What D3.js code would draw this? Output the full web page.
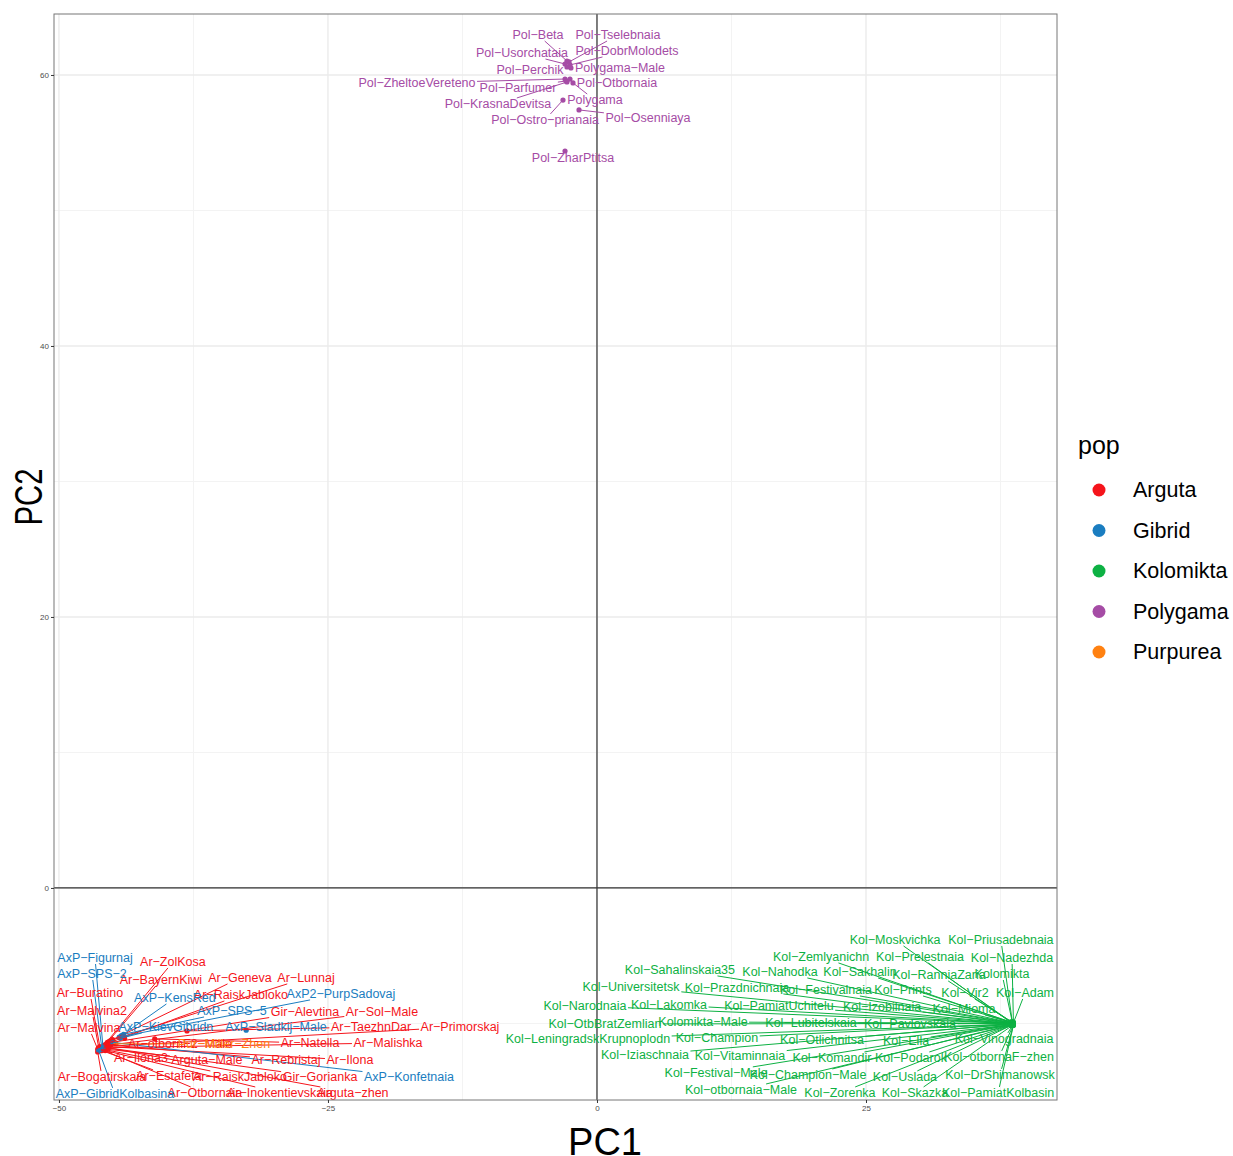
<!DOCTYPE html>
<html>
<head>
<meta charset="utf-8">
<script src="https://cdn.jsdelivr.net/npm/d3@7"></script>
<style>
  body { margin: 0; background: #fff; }
  text { font-family: "Liberation Sans", Arial, sans-serif; }
</style>
</head>
<body>
<div id="chart"></div>
<script>
// populations and their colours
const pops = ['Arguta', 'Gibrid', 'Kolomikta', 'Polygama', 'Purpurea'];
const popColors = ['#f5141b', '#1a7dc0', '#0db143', '#a54ca5', '#ff8111'];

// ticks
const xTicks = [-50, -25, 0, 25];
const yTicks = [0, 20, 40, 60];
const xMinor = [-37.5, -12.5, 12.5, 37.5];
const yMinor = [-10, 10, 30, 50];

// samples: [label, PC1, PC2]
const arguta = [
  ['Ar−ZolKosa', -45.8, -11.6], ['Ar−BayernKiwi', -45.5, -11.4], ['Ar−Geneva', -45.3, -11.3],
  ['Ar−Lunnaj', -45.0, -11.2], ['Ar−Buratino', -46.2, -11.7], ['Ar−RaiskJabloko', -45.6, -11.5],
  ['Ar−Malvina2', -46.3, -11.8], ['Gir−Alevtina', -45.1, -11.4], ['Ar−Sol−Male', -45.4, -11.6],
  ['Ar−Malvina', -46.4, -11.9], ['Ar−TaezhnDar', -38.1, -10.55], ['Ar−Primorskaj', -45.7, -11.7],
  ['Ar−otbornF2−Male', -43.9, -11.1], ['Ar−Natella', -41.1, -11.14], ['Ar−Malishka', -45.9, -11.8],
  ['Ar−Ilona3', -46.1, -12.0], ['Arguta−Male', -45.6, -11.9], ['Ar−Rebristaj', -45.2, -11.6],
  ['Ar−Ilona', -45.8, -11.7], ['Ar−Bogatirskaia', -46.4, -12.1], ['Ar−Estafeta', -46.0, -12.0],
  ['Ar−RaiskJabloko', -45.9, -11.9], ['Gir−Gorianka', -45.5, -11.8], ['Ar−Otbornaia', -46.1, -11.9],
  ['Ar−Inokentievskaia', -45.7, -12.0], ['Arguta−zhen', -45.4, -11.8]
];
const argutaLabels = [
  [-39.41, -5.46], [-40.52, -6.79], [-33.18, -6.64], [-27.04, -6.64], [-47.12, -7.75], [-33.09, -7.90],
  [-46.93, -9.08], [-27.14, -9.15], [-19.98, -9.15], [-47.21, -10.33], [-21.00, -10.26], [-12.73, -10.26],
  [-38.75, -11.51], [-26.67, -11.44], [-19.42, -11.44], [-42.38, -12.55], [-36.25, -12.69], [-28.90, -12.69],
  [-22.96, -12.69], [-46.00, -13.95], [-39.78, -13.87], [-33.18, -13.95], [-25.74, -13.95], [-36.43, -15.13],
  [-29.46, -15.13], [-22.68, -15.13]
];

const gibrid = [
  ['AxP−Figurnaj', -45.9, -11.8], ['AxP−SPS−2', -46.0, -11.9], ['AxP−KensRed', -44.2, -10.9],
  ['AxP2−PurpSadovaj', -44.4, -11.0], ['AxP−SPS−5', -44.0, -10.8], ['AxP−KievGibridn', -44.3, -11.1],
  ['AxP−Sladkij−Male', -32.6, -10.5], ['AxP−Konfetnaia', -45.0, -11.4], ['AxP−GibridKolbasina', -46.3, -12.0]
];
const gibridLabels = [
  [-46.65, -5.17], [-46.93, -6.35], [-39.22, -8.12], [-23.79, -7.82], [-33.92, -9.08], [-40.06, -10.26],
  [-29.83, -10.26], [-17.47, -13.95], [-44.80, -15.20]
];

const purpurea = [['Pur−Miller−Zhen', -44.7, -11.5]];
const purpureaLabels = [[-34.67, -11.51]];

const polygama = [
  ['Pol−Beta', -2.79, 61.03], ['Pol−Tselebnaia', -2.60, 60.96], ['Pol−Usorchataia', -2.97, 60.81],
  ['Pol−DobrMolodets', -2.51, 60.74], ['Pol−Perchik', -2.79, 60.59], ['Polygama−Male', -2.42, 60.52],
  ['Pol−ZheltoeVereteno', -2.97, 59.70], ['Pol−Parfumer', -2.88, 59.56], ['Pol−Otbornaia', -2.51, 59.70],
  ['Pol−KrasnaDevitsa', -2.79, 59.48], ['Polygama', -2.23, 59.41], ['Pol−Ostro−prianaia', -3.16, 58.15],
  ['Pol−Osenniaya', -1.67, 57.42], ['Pol−ZharPtitsa', -2.97, 54.39]
];
const polygamaLabels = [
  [-5.48, 62.95], [1.95, 62.95], [-6.97, 61.62], [2.79, 61.77], [-6.23, 60.37], [2.14, 60.52],
  [-16.73, 59.41], [-7.34, 59.04], [1.86, 59.41], [-9.20, 57.86], [-0.19, 58.15], [-4.83, 56.68],
  [4.74, 56.83], [-2.23, 53.87]
];

const kolomikta = [
  ['Kol−Moskvichka', 38.5, -9.9], ['Kol−Priusadebnaia', 38.6, -9.9], ['Kol−Zemlyanichn', 38.4, -9.9],
  ['Kol−Prelestnaia', 38.5, -9.95], ['Kol−Nadezhda', 38.7, -9.9], ['Kol−Sahalinskaia35', 38.4, -9.95],
  ['Kol−Nahodka', 38.5, -9.95], ['Kol−Sakhalin', 38.5, -9.9], ['Kol−RanniaZaria', 38.6, -9.95],
  ['Kolomikta', 38.6, -9.9], ['Kol−Universitetsk', 38.4, -10.0], ['Kol−Prazdnichnaia', 38.5, -10.0],
  ['Kol−Festivalnaia', 38.5, -9.95], ['Kol−Prints', 38.6, -9.95], ['Kol−Vir2', 38.6, -9.9],
  ['Kol−Adam', 38.7, -9.95], ['Kol−Narodnaia', 38.4, -10.0], ['Kol−Lakomka', 38.5, -10.0],
  ['Kol−PamiatUchitelu', 38.5, -10.0], ['Kol−Izobilnaia', 38.5, -9.95], ['Kol−Mioma', 38.6, -9.95],
  ['Kol−OtbBratZemlian', 38.5, -10.0], ['Kolomikta−Male', 38.5, -10.0], ['Kol−Lubitelskaia', 38.5, -10.0],
  ['Kol−Pavlovskaia', 38.6, -10.0], ['Kol−LeningradskKrupnoplodn', 38.5, -10.05], ['Kol−Champion', 38.5, -10.05],
  ['Kol−Otlichnitsa', 38.5, -10.05], ['Kol−Ella', 38.6, -10.05], ['Kol−Vinogradnaia', 38.7, -10.05],
  ['Kol−Iziaschnaia', 38.5, -10.05], ['Kol−Vitaminnaia', 38.5, -10.1], ['Kol−Komandir', 38.5, -10.1],
  ['Kol−Podarok', 38.6, -10.1], ['Kol−otbornaF−zhen', 38.7, -10.1], ['Kol−Festival−Male', 38.5, -10.1],
  ['Kol−Champion−Male', 38.5, -10.1], ['Kol−Uslada', 38.6, -10.1], ['Kol−DrShimanowsk', 38.7, -10.1],
  ['Kol−otbornaia−Male', 38.5, -10.15], ['Kol−Zorenka', 38.5, -10.15], ['Kol−Skazka', 38.6, -10.15],
  ['Kol−PamiatKolbasin', 38.7, -10.15]
];
const kolomiktaLabels = [
  [27.70, -3.84], [37.54, -3.84], [20.82, -5.09], [30.02, -5.09], [38.57, -5.17], [7.71, -6.05],
  [17.01, -6.20], [24.44, -6.20], [31.78, -6.42], [37.64, -6.35], [3.16, -7.31], [13.01, -7.38],
  [21.28, -7.53], [28.44, -7.53], [34.20, -7.75], [39.78, -7.75], [-1.12, -8.71], [6.69, -8.63],
  [16.91, -8.71], [26.49, -8.78], [34.11, -8.93], [0.74, -10.04], [9.85, -9.89], [19.89, -9.96],
  [29.09, -10.04], [-0.84, -11.14], [11.15, -11.07], [20.91, -11.22], [28.72, -11.29], [37.83, -11.14],
  [4.46, -12.32], [13.29, -12.40], [21.84, -12.55], [29.18, -12.55], [37.36, -12.47], [11.06, -13.65],
  [19.61, -13.80], [28.62, -13.95], [37.45, -13.80], [13.38, -14.91], [22.58, -15.13], [29.55, -15.13],
  [37.27, -15.13]
];

const groups = [
  { pop: 'Arguta', rows: arguta, labels: argutaLabels },
  { pop: 'Gibrid', rows: gibrid, labels: gibridLabels },
  { pop: 'Kolomikta', rows: kolomikta, labels: kolomiktaLabels },
  { pop: 'Polygama', rows: polygama, labels: polygamaLabels },
  { pop: 'Purpurea', rows: purpurea, labels: purpureaLabels }
];

const width = 1233, height = 1156;
const panel = { left: 54, top: 14, right: 1057, bottom: 1100 };

const x = d3.scaleLinear().domain([-50.46, 42.75]).range([panel.left, panel.right]);
const y = d3.scaleLinear().domain([-15.65, 64.5]).range([panel.bottom, panel.top]);
const color = d3.scaleOrdinal().domain(pops).range(popColors);

const svg = d3.select('#chart').append('svg')
  .attr('width', width)
  .attr('height', height);

// grid
const grid = svg.append('g');
grid.selectAll('.xminor').data(xMinor).enter().append('line')
  .attr('x1', d => x(d)).attr('x2', d => x(d))
  .attr('y1', panel.top).attr('y2', panel.bottom)
  .attr('stroke', '#f3f3f3').attr('stroke-width', 1);
grid.selectAll('.yminor').data(yMinor).enter().append('line')
  .attr('y1', d => y(d)).attr('y2', d => y(d))
  .attr('x1', panel.left).attr('x2', panel.right)
  .attr('stroke', '#f3f3f3').attr('stroke-width', 1);
grid.selectAll('.xmajor').data(xTicks).enter().append('line')
  .attr('x1', d => x(d)).attr('x2', d => x(d))
  .attr('y1', panel.top).attr('y2', panel.bottom)
  .attr('stroke', '#ebebeb').attr('stroke-width', 1.4);
grid.selectAll('.ymajor').data(yTicks).enter().append('line')
  .attr('y1', d => y(d)).attr('y2', d => y(d))
  .attr('x1', panel.left).attr('x2', panel.right)
  .attr('stroke', '#ebebeb').attr('stroke-width', 1.4);

// reference lines at 0
svg.append('line')
  .attr('x1', x(0)).attr('x2', x(0)).attr('y1', panel.top).attr('y2', panel.bottom)
  .attr('stroke', '#333').attr('stroke-width', 1.2);
svg.append('line')
  .attr('y1', y(0)).attr('y2', y(0)).attr('x1', panel.left).attr('x2', panel.right)
  .attr('stroke', '#333').attr('stroke-width', 1.2);

// points
const pointLayer = svg.append('g');
const segLayer = svg.append('g');
const textLayer = svg.append('g');

groups.forEach(g => {
  const c = color(g.pop);
  g.rows.forEach((r, i) => {
    const px = x(r[1]), py = y(r[2]);
    pointLayer.append('circle')
      .attr('cx', px).attr('cy', py).attr('r', 2.6)
      .attr('fill', c);
    const lx = x(g.labels[i][0]), ly = y(g.labels[i][1]);
    const t = textLayer.append('text')
      .attr('x', lx).attr('y', ly)
      .attr('text-anchor', 'middle')
      .attr('dominant-baseline', 'central')
      .attr('font-size', 12.5)
      .attr('fill', c)
      .text(r[0]);
    // segment from point toward label centre, stopped at the label box
    const b = t.node().getBBox();
    const hw = b.width / 2 + 1.5, hh = b.height / 2 - 1;
    const dx = px - lx, dy = py - ly;
    if (Math.abs(dx) <= hw && Math.abs(dy) <= hh) return;
    const tt = Math.min(dx !== 0 ? hw / Math.abs(dx) : Infinity, dy !== 0 ? hh / Math.abs(dy) : Infinity);
    const ex = lx + dx * tt, ey = ly + dy * tt;
    if (Math.hypot(px - ex, py - ey) < 6) return;
    segLayer.append('line')
      .attr('x1', px).attr('y1', py).attr('x2', ex).attr('y2', ey)
      .attr('stroke', c).attr('stroke-width', 1);
  });
});

// panel border
svg.append('rect')
  .attr('x', panel.left).attr('y', panel.top)
  .attr('width', panel.right - panel.left).attr('height', panel.bottom - panel.top)
  .attr('fill', 'none').attr('stroke', '#777').attr('stroke-width', 1);

// axes
const xAxis = svg.append('g')
  .attr('transform', 'translate(0,' + panel.bottom + ')')
  .call(d3.axisBottom(x).tickValues(xTicks).tickSize(3).tickPadding(2).tickFormat(d3.format('d')));
const yAxis = svg.append('g')
  .attr('transform', 'translate(' + panel.left + ',0)')
  .call(d3.axisLeft(y).tickValues(yTicks).tickSize(3).tickPadding(2).tickFormat(d3.format('d')));
[xAxis, yAxis].forEach(a => {
  a.select('.domain').remove();
  a.selectAll('line').attr('stroke', '#333');
  a.selectAll('text').attr('fill', '#4d4d4d').attr('font-size', 8)
    .attr('font-family', '"Liberation Sans", Arial, sans-serif');
});

// axis titles
svg.append('text')
  .attr('x', 605).attr('y', 1155)
  .attr('text-anchor', 'middle')
  .attr('font-size', 38)
  .attr('fill', '#000')
  .text('PC1');
svg.append('text')
  .attr('transform', 'translate(42,497) rotate(-90) scale(0.77,1)')
  .attr('text-anchor', 'middle')
  .attr('font-size', 38)
  .attr('fill', '#000')
  .text('PC2');

// legend
const legend = svg.append('g');
legend.append('text')
  .attr('x', 1078).attr('y', 454)
  .attr('font-size', 25)
  .attr('fill', '#000')
  .text('pop');
const items = legend.selectAll('.item')
  .data(pops)
  .enter().append('g')
  .attr('transform', (d, i) => 'translate(0,' + (490 + i * 40.5) + ')');
items.append('circle')
  .attr('cx', 1099).attr('cy', 0).attr('r', 6.5)
  .attr('fill', d => color(d));
items.append('text')
  .attr('x', 1133).attr('y', 0)
  .attr('dominant-baseline', 'central')
  .attr('font-size', 21.5)
  .attr('fill', '#000')
  .text(d => d);
</script>
</body>
</html>
